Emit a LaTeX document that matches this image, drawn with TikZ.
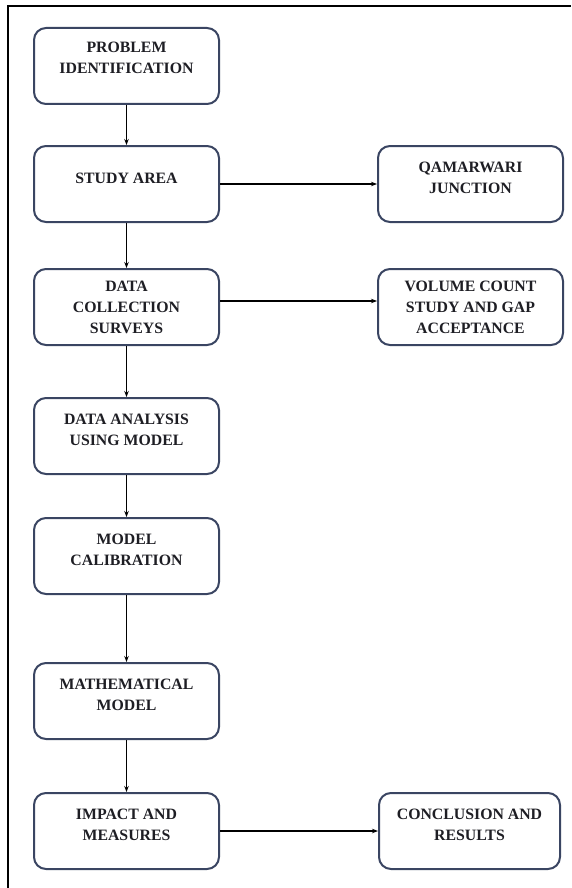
\documentclass[tikz,border=0pt]{standalone}
\usepackage{fontspec}
\setmainfont{Liberation Serif}
\usetikzlibrary{arrows.meta,positioning}
\definecolor{boxslate}{HTML}{3A4562}
\definecolor{textdark}{HTML}{1E1E24}

\begin{document}
\begin{tikzpicture}[
  stage/.style={draw=boxslate, line width=2pt, rounded corners=12pt, fill=white,
                font=\fontsize{15.8}{21}\selectfont\bfseries, align=center,
                minimum width=185pt, minimum height=76pt, text=textdark},
  lift/.style={text depth=13pt},
  flow/.style={-{Stealth[length=6pt,width=4.5pt]}, black, line width=1.1pt},
]
  \useasboundingbox (0,0) rectangle (571pt,-888pt);
  \draw[line width=2.5pt] (8pt,-888pt) -- (8pt,-6pt) -- (571pt,-6pt);

  \node[stage, lift, text depth=16pt] (prob) at (126.5pt,-66pt) {PROBLEM\\IDENTIFICATION};
  \node[stage, below=40pt of prob, text depth=11pt]  (study) {STUDY AREA};
  \node[stage, below=45pt of study] (survey) {DATA\\COLLECTION\\SURVEYS};
  \node[stage, lift, below=51pt of survey] (analysis) {DATA ANALYSIS\\USING MODEL};
  \node[stage, lift, below=42pt of analysis] (calib) {MODEL\\CALIBRATION};
  \node[stage, lift, below=67pt of calib] (mathmod) {MATHEMATICAL\\MODEL};
  \node[stage, lift, below=52pt of mathmod] (impact) {IMPACT AND\\MEASURES};

  \node[stage, lift, right=157pt of study]  (junction) {QAMARWARI\\JUNCTION};
  \node[stage, right=157pt of survey] (volume) {VOLUME COUNT\\STUDY AND GAP\\ACCEPTANCE};
  \node[stage, lift, right=158pt of impact, minimum width=181pt] (concl) {CONCLUSION AND\\RESULTS};

  \draw[flow] (prob.south) -- (study.north);
  \draw[flow] (study.south) -- (survey.north);
  \draw[flow] (survey.south) -- (analysis.north);
  \draw[flow] (analysis.south) -- (calib.north);
  \draw[flow] (calib.south) -- (mathmod.north);
  \draw[flow] (mathmod.south) -- (impact.north);

  \draw[flow] (study.east) -- (junction.west);
  \draw[flow] ([yshift=6pt]survey.east) -- ([yshift=6pt]volume.west);
  \draw[flow] (impact.east) -- (concl.west);
\end{tikzpicture}
\end{document}
